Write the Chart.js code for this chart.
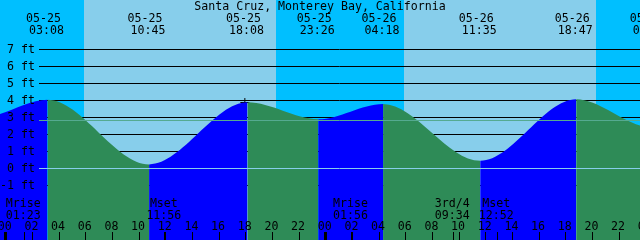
<!DOCTYPE html>
<html>
<head>
<meta charset="utf-8">
<title>Santa Cruz tides</title>
<script src="https://cdn.jsdelivr.net/npm/chart.js@4/dist/chart.umd.min.js"></script>
<style>
  html, body { margin: 0; padding: 0; background: #fff; }
  #wrap { width: 640px; height: 240px; }
</style>
</head>
<body>
<div id="wrap"><canvas id="tideChart" width="640" height="240"></canvas></div>
<script>
// Tide highs and lows (local time) and their levels in feet.
// First and last two are just outside the window, they shape the curve ends.
const tideTimes = [
  "05-24 17:25", "05-24 22:10",
  "05-25 03:08", "05-25 10:45", "05-25 18:08", "05-25 23:26",
  "05-26 04:18", "05-26 11:35", "05-26 18:47",
  "05-27 00:25", "05-27 05:20"
];
const tideLevels = [3.8, 3.0, 4.05, 0.24, 3.89, 2.9, 3.8, 0.45, 4.07, 2.43, 3.7];

// sunrise / sunset pairs -> day bands
const sunTimes = ["05-25 05:52", "05-25 20:16", "05-26 05:51", "05-26 20:17"];

// moon events along the bottom
const moonLabels = ["Mrise", "Mset", "Mrise", "3rd/4", "Mset"];
const moonTimes = ["05-25 01:23", "05-25 11:56", "05-26 01:56", "05-26 09:34", "05-26 12:52"];

// reference lines (ft)
const datumLevel = 0;
const meanLevel = 2.82;

// the "+" mark on the curve
const markTimes = ["05-25 17:56"];
const markLevels = [3.88];

// axis ticks
const levelTicks = [-1, 0, 1, 2, 3, 4, 5, 6, 7];
const hourTicks = [0, 2, 4, 6, 8, 10, 12, 14, 16, 18, 20, 22, 24,
  26, 28, 30, 32, 34, 36, 38, 40, 42, 44, 46, 48];

const chartTitle = "Santa Cruz, Monterey Bay, California";

const NIGHT = "#00BFFF";
const DAY = "#87CEEB";
const FLOOD = "#0000FF";
const EBB = "#2E8B57";
const DATUM = "#87CEEB";
const MSL = "#55AA90";
const FONT_FAMILY = "'DejaVu Sans Mono', monospace";
const FONT = "11.6px " + FONT_FAMILY;
const GRID_LEFT = 39;

// "MM-DD HH:MM" -> hours since 05-25 00:00
function toHours(s) {
  const [md, hm] = s.split(" ");
  const day = parseInt(md.split("-")[1], 10) - 25;
  const [h, m] = hm.split(":").map(Number);
  return day * 24 + h + m / 60;
}

const crisp = (v) => Math.round(v - 0.5) + 0.5;

const tidePoints = tideTimes.map((t, i) => ({ x: toHours(t), y: tideLevels[i] }));
const markPoints = markTimes.map((t, i) => ({ x: toHours(t), y: markLevels[i] }));

const decor = {
  id: "tideDecor",
  beforeDraw(chart) {
    const { ctx, chartArea: a, scales: { x } } = chart;
    ctx.save();
    ctx.fillStyle = NIGHT;
    ctx.fillRect(a.left, a.top, a.right - a.left, a.bottom - a.top);
    ctx.fillStyle = DAY;
    for (let i = 0; i + 1 < sunTimes.length; i += 2) {
      const x0 = Math.round(x.getPixelForValue(toHours(sunTimes[i])));
      const x1 = Math.round(x.getPixelForValue(toHours(sunTimes[i + 1])));
      ctx.fillRect(x0, a.top, x1 - x0, a.bottom - a.top);
    }
    ctx.restore();
  },
  beforeDatasetsDraw(chart) {
    const { ctx, chartArea: a, scales: { y } } = chart;
    ctx.save();
    ctx.strokeStyle = "#000";
    ctx.lineWidth = 1;
    levelTicks.forEach((v) => {
      const py = crisp(y.getPixelForValue(v));
      ctx.beginPath();
      ctx.moveTo(GRID_LEFT, py);
      ctx.lineTo(a.right, py);
      ctx.stroke();
    });
    ctx.restore();
  },
  afterDatasetsDraw(chart) {
    const { ctx, chartArea: a, scales: { y } } = chart;
    ctx.save();
    ctx.lineWidth = 1;
    [[datumLevel, DATUM], [meanLevel, MSL]].forEach(([v, c]) => {
      const py = crisp(y.getPixelForValue(v));
      ctx.strokeStyle = c;
      ctx.beginPath();
      ctx.moveTo(GRID_LEFT, py);
      ctx.lineTo(a.right, py);
      ctx.stroke();
    });
    ctx.restore();
  },
  afterDraw(chart) {
    const { ctx, chartArea: a, scales: { x } } = chart;
    ctx.save();
    ctx.fillStyle = "#000";
    ctx.strokeStyle = "#000";
    ctx.font = FONT;
    ctx.textAlign = "center";
    ctx.textBaseline = "alphabetic";

    ctx.fillText(chartTitle, (a.left + a.right) / 2, 10);

    // high / low labels
    tideTimes.forEach((t) => {
      const px = x.getPixelForValue(toHours(t));
      const [md, hm] = t.split(" ");
      ctx.fillText(md, px - 4, 22);
      ctx.fillText(hm, px - 1, 34);
    });

    // moon events
    moonTimes.forEach((t, i) => {
      const px = x.getPixelForValue(toHours(t));
      ctx.fillText(moonLabels[i], px - 1, 206.5);
      ctx.fillText(t.split(" ")[1], px - 1, 218.5);
      const tx = crisp(px);
      ctx.lineWidth = 1;
      ctx.beginPath();
      ctx.moveTo(tx, 232);
      ctx.lineTo(tx, a.bottom);
      ctx.stroke();
    });

    // hour ticks
    x.ticks.forEach((tk) => {
      const px = x.getPixelForValue(tk.value);
      ctx.fillText(tk.label, px - 1, 230);
      const midnight = tk.value % 24 === 0;
      if (midnight) {
        ctx.fillRect(Math.round(px) - 2, 232, 3, a.bottom - 232);
      } else {
        const tx = crisp(px);
        ctx.lineWidth = 1;
        ctx.beginPath();
        ctx.moveTo(tx, 232);
        ctx.lineTo(tx, a.bottom);
        ctx.stroke();
      }
    });
    ctx.restore();
  }
};

const config = {
  type: "line",
  data: {
    datasets: [
      {
        label: "Tide",
        data: tidePoints,
        fill: "start",
        backgroundColor: FLOOD,
        borderWidth: 0,
        pointRadius: 0,
        cubicInterpolationMode: "monotone",
        segment: {
          // rising water blue, falling water green
          backgroundColor: (c) => (c.p1.parsed.y >= c.p0.parsed.y ? FLOOD : EBB)
        }
      },
      {
        label: "Mark",
        data: markPoints,
        showLine: false,
        fill: false,
        pointStyle: "cross",
        pointRadius: 4.5,
        pointBorderWidth: 1,
        pointBorderColor: "#000",
        pointBackgroundColor: "#000"
      }
    ]
  },
  options: {
    responsive: false,
    animation: false,
    events: [],
    layout: { padding: 0, autoPadding: false },
    plugins: {
      legend: { display: false },
      tooltip: { enabled: false },
      title: { display: false }
    },
    scales: {
      x: {
        type: "linear",
        display: false,
        min: -0.43,
        max: 47.57,
        afterBuildTicks: (s) => { s.ticks = hourTicks.map((v) => ({ value: v })); },
        ticks: {
          callback: (v) => String(((v % 24) + 24) % 24).padStart(2, "0")
        }
      },
      y: {
        type: "linear",
        position: "left",
        min: -4.206,
        max: 9.912,
        grid: { display: false, drawTicks: false },
        border: { display: false },
        afterBuildTicks: (s) => { s.ticks = levelTicks.map((v) => ({ value: v })); },
        afterFit: (s) => {
          s.width = 0;
          s.paddingTop = 0;
          s.paddingBottom = 0;
        },
        ticks: {
          z: 1,
          mirror: true,
          crossAlign: "far",
          padding: 0,
          autoSkip: false,
          color: "#000",
          font: { family: FONT_FAMILY, size: 11.6 },
          callback: (v) => v + " ft"
        }
      }
    }
  },
  plugins: [decor]
};

const tideChart = new Chart(document.getElementById("tideChart"), config);
</script>
</body>
</html>
